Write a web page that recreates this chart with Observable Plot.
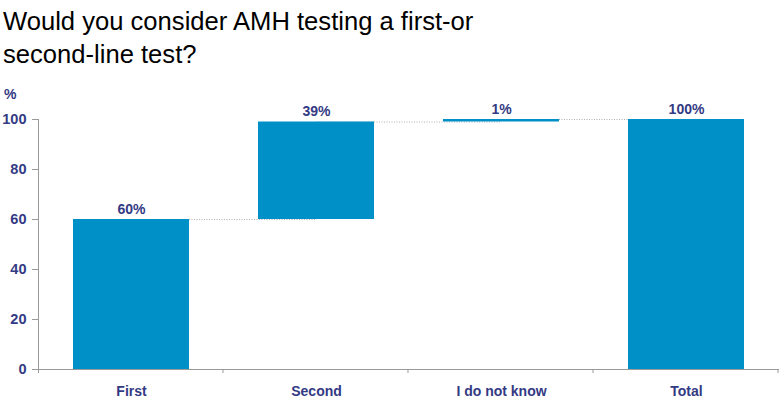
<!DOCTYPE html>
<html>
<head>
<meta charset="utf-8">
<script src="https://cdn.jsdelivr.net/npm/d3@7"></script>
<script src="https://cdn.jsdelivr.net/npm/@observablehq/plot@0.6"></script>
<style>
  body { margin: 0; background: #fff; font-family: "Liberation Sans", Arial, sans-serif; }
  #wrap { position: relative; width: 780px; height: 400px; overflow: hidden; }
  #title { position: absolute; left: 3px; top: 5px; font-size: 25.6px; line-height: 33px; color: #000; }
  #unit { position: absolute; left: 4px; top: 86px; font-size: 14px; font-weight: bold; color: #333a84; }
  #chart { position: absolute; left: 0; top: 80px; }
</style>
</head>
<body>
<div id="wrap">
  <div id="title">Would you consider AMH testing a first-or<br>second-line test?</div>
  <div id="unit">%</div>
  <div id="chart"></div>
</div>
<script>
const categories = ["First", "Second", "I do not know", "Total"];
const values = [60, 39, 1, 100];
const isTotal = [false, false, false, true];
const yTicks = [0, 20, 40, 60, 80, 100];

const navy = "#333a84";
const barColor = "#0090c8";
const axisGrey = "#9a9a9a";

// build waterfall table
let run = 0;
const rows = categories.map((c, i) => {
  const start = isTotal[i] ? 0 : run;
  const end = isTotal[i] ? values[i] : run + values[i];
  if (!isTotal[i]) run = end;
  return {cat: c, value: values[i], start, end, label: values[i] + "%"};
});
const links = rows.slice(0, -1).map((r, i) => ({from: r.cat, to: rows[i + 1].cat, level: r.end}));

const pInner = 0.373;
const chart = Plot.plot({
  width: 780,
  height: 320,
  marginLeft: 38,
  marginRight: 1,
  marginTop: 39,
  marginBottom: 31,
  style: {fontFamily: "'Liberation Sans', Arial, sans-serif", background: "transparent"},
  x: {domain: categories, paddingInner: pInner, paddingOuter: pInner / 2, label: null},
  y: {domain: [0, 100], label: null},
  marks: [
    Plot.link(links, {x1: "from", x2: "to", y1: "level", y2: "level", stroke: "#b0b0b0", strokeWidth: 1, strokeDasharray: "1,1.5"}),
    Plot.barY(rows, {x: "cat", y1: "start", y2: "end", fill: barColor}),
    Plot.text(rows, {x: "cat", y: "end", text: "label", dy: -10, lineAnchor: "middle", fill: navy, fontSize: 14, fontWeight: "bold"}),
    Plot.axisY({ticks: yTicks, tickSize: 6, tickPadding: 6, stroke: axisGrey, color: navy, fill: navy, fontSize: 14.5, fontWeight: "bold", label: null}),
    Plot.axisX({tickSize: 0, tickPadding: 17, fill: navy, fontSize: 14, fontWeight: "bold", label: null}),
    Plot.ruleY([0], {stroke: axisGrey})
  ]
});

document.getElementById("chart").appendChild(chart);

// y-axis line and band-boundary ticks drawn from the chart's own scales
const xs = chart.scale("x");
const ys = chart.scale("y");
const svg = d3.select(chart);
const y0 = ys.apply(0), y100 = ys.apply(100);
const half = xs.step * xs.paddingInner / 2;
const bounds = categories.map(c => xs.apply(c) - half);
bounds.push(xs.apply(categories[categories.length - 1]) + xs.bandwidth + half);
const g = svg.append("g").attr("stroke", axisGrey).attr("stroke-width", 1);
g.append("line").attr("x1", bounds[0]).attr("x2", bounds[0]).attr("y1", y100).attr("y2", y0 + 4);
bounds.slice(1).forEach(b => {
  g.append("line").attr("x1", b - 0.5).attr("x2", b - 0.5).attr("y1", y0).attr("y2", y0 + 4);
});
</script>
</body>
</html>
